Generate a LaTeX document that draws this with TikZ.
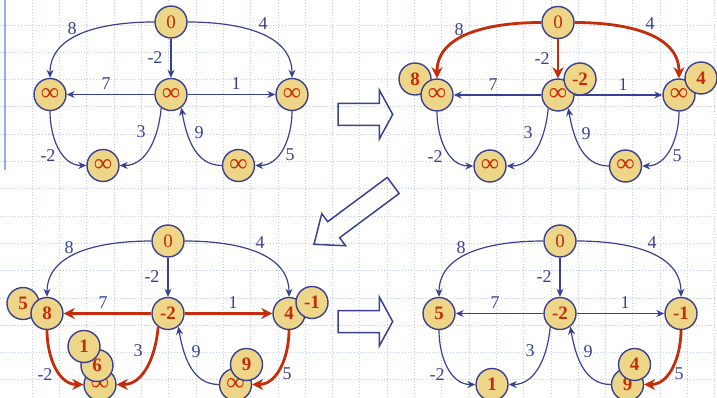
\documentclass[tikz,border=0pt]{standalone}
\usepackage{fontspec}
\setmainfont{Liberation Serif}
\usetikzlibrary{arrows.meta,positioning}
\definecolor{nodefill}{RGB}{237,214,135}
\definecolor{edgeblue}{RGB}{58,64,145}
\definecolor{hotred}{RGB}{196,44,10}
\definecolor{gridblue}{RGB}{188,203,240}
\definecolor{barblue}{RGB}{150,175,238}
\newcommand\infsym{{\fontsize{25}{25}\selectfont\textbf{∞}}}
\tikzset{
  vertex/.style={
    shape = circle,
    draw = edgeblue,
    line width = 1.4pt,
    fill = nodefill,
    minimum size = 32pt,
    inner sep = 0pt,
    text = hotred,
    font = \fontsize{19}{19}\selectfont
  },
  weight/.style={
    text = edgeblue,
    inner sep = 0pt,
    font = \fontsize{18}{18}\selectfont
  },
  cold/.style={
    draw = edgeblue,
    line width = 1.2pt,
    -{Stealth[length=8pt,width=7pt]}
  },
  hot/.style={
    draw = hotred,
    line width = 2.8pt,
    -{Stealth[length=11pt,width=11pt]}
  },
  gridline/.style={
    draw = gridblue,
    line width = 0.9pt,
    dash pattern = on 1pt off 2pt
  },
  bigarrow/.style={
    draw = edgeblue,
    line width = 1.5pt,
    line join = miter
  },
}
% edges relaxed in each step
\tikzset{
  b-sl/.style=hot, b-sm/.style=hot, b-sr/.style=hot,
  c-ml/.style=hot, c-mr/.style=hot, c-lp/.style=hot, c-mp/.style=hot, c-rq/.style=hot,
  d-rq/.style=hot,
}
\begin{document}
\begin{tikzpicture}[x=1pt,y=1pt]
  \useasboundingbox (0,0) rectangle (717,-398);
  \clip (0,0) rectangle (717,-398);
  % background grid
  \foreach \i in {1,...,26}
    \draw[gridline] (5+27.3*\i,0) -- (5+27.3*\i,-398);
  \foreach \j in {0,...,13}
    \draw[gridline] (0,-25-27.3*\j) -- (717,-25-27.3*\j);
  \draw[barblue, line width=2pt] (5,0) -- (5,-170);
  % old values lying under the new ones
  \node[vertex] (b-l8) at (415,-79) {\textbf{8}};
  \node[vertex] (c-l5) at (23,-303.5) {\textbf{5}};
  \foreach \g/\ox/\oy/\vl/\vm/\vr/\vp/\vq in {
      a/171/-22/\infsym/\infsym/\infsym/\infsym/\infsym,
      b/558/-22.5/\infsym/\infsym/\infsym/\infsym/\infsym,
      c/168/-241/\textbf{8}/\textbf{-2}/\textbf{4}/\infsym/\infsym,
      d/560/-241/\textbf{5}/\textbf{-2}/\textbf{-1}/\textbf{1}/\textbf{9}}{
    \begin{scope}[shift={(\ox,\oy)}]
      \node[vertex] (\g-s) at (0,0) {0};
      \node[vertex] (\g-l) at (-121,-72.5) {\vl};
      \node[vertex] (\g-m) at (0,-72.5) {\vm};
      \node[vertex] (\g-r) at (121,-72.5) {\vr};
      \node[vertex] (\g-p) at (-68,-143.5) {\vp};
      \node[vertex] (\g-q) at (67.5,-143.5) {\vq};
      \draw[cold, \g-sl/.try] (\g-s) to[out=180,in=90] (\g-l);
      \draw[cold, \g-sr/.try] (\g-s) to[out=0,in=90] (\g-r);
      \draw[cold, \g-sm/.try] (\g-s) -- (\g-m);
      \draw[cold, \g-ml/.try] (\g-m) -- (\g-l);
      \draw[cold, \g-mr/.try] (\g-m) -- (\g-r);
      \draw[cold, \g-lp/.try] (\g-l) to[out=270,in=180] (\g-p);
      \draw[cold, \g-mp/.try] (\g-m.234) to[out=265,in=0] (\g-p);
      \draw[cold, \g-qm/.try] (\g-q) to[out=180,in=-80] (\g-m.308);
      \draw[cold, \g-rq/.try] (\g-r) to[out=270,in=0] (\g-q);
      \foreach \e/\x/\y/\t in {sl/-99/-7/8, sr/92/-1.5/4, sm/-16/-36/-2,
          ml/-65/-62/7, mr/65/-62/1, lp/-123/-134/-2,
          mp/-30/-110/3, qm/28/-111/9, rq/119/-133/5}
        \node[weight] (\g-w\e) at (\x,\y) {\t};
    \end{scope}
  }
  % new values on top
  \node[vertex] (b-m2) at ([shift={(22,16)}]b-m) {\textbf{-2}};
  \node[vertex] (b-r4) at ([shift={(22,17)}]b-r) {\textbf{4}};
  \node[vertex] (c-r1) at ([shift={(23,11)}]c-r) {\textbf{-1}};
  \node[vertex] (c-p6) at ([shift={(-3,19)}]c-p) {\textbf{6}};
  \node[vertex] (c-p1) at ([shift={(-16,38)}]c-p) {\textbf{1}};
  \node[vertex] (c-q9) at ([shift={(11,20)}]c-q) {\textbf{9}};
  \node[vertex] (d-q4) at ([shift={(7,20)}]d-q) {\textbf{4}};
  % step arrows
  \foreach \y in {-114.5,-321.5}
    \draw[bigarrow, shift={(338,\y)}] (0,11) -- (41.3,11) -- (41.3,24.5) -- (54.7,0)
      -- (41.3,-24.5) -- (41.3,-11) -- (0,-11) -- cycle;
  \draw[bigarrow, shift={(314,-244.3)}, rotate=36.6] (0,0) -- (24.5,20) -- (24.5,10)
    -- (98.7,10) -- (98.7,-10) -- (24.5,-10) -- (24.5,-20) -- cycle;
\end{tikzpicture}
\end{document}
